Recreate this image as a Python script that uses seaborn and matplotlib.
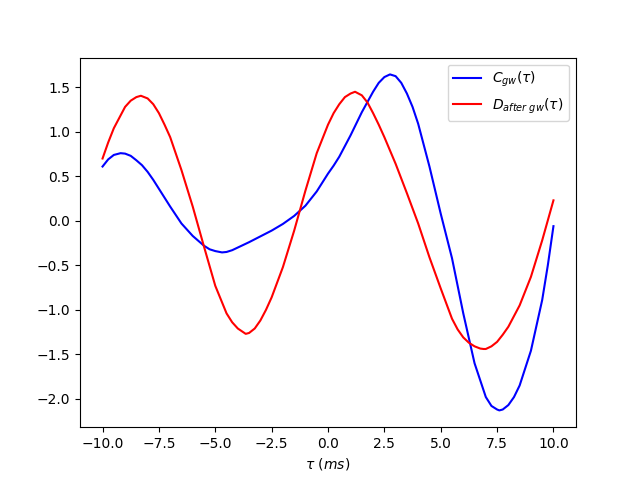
import matplotlib
matplotlib.use("Agg")
import matplotlib.pyplot as plt
import seaborn as sns
import pandas as pd

# C_gw(tau)
tau_c = [-10, -9.75, -9.5, -9.2, -9, -8.75, -8.5, -8.25, -8, -7.75, -7.5, -7, -6.5, -6,
         -5.5, -5.25, -5, -4.7, -4.5, -4.25, -4, -3.5, -3, -2.5, -2, -1.5, -1, -0.5,
         -0.25, 0, 0.25, 0.5, 0.75, 1, 1.5, 2, 2.25, 2.5, 2.75, 3, 3.25, 3.5, 3.75,
         4, 4.5, 5, 5.5, 6, 6.5, 7, 7.25, 7.5, 7.6, 7.75, 8, 8.25, 8.5, 9, 9.5, 9.75, 10]
c_vals = [0.61, 0.69, 0.74, 0.76, 0.755, 0.73, 0.68, 0.625, 0.55, 0.46, 0.36, 0.16,
          -0.03, -0.17, -0.28, -0.32, -0.34, -0.355, -0.35, -0.33, -0.30, -0.24,
          -0.175, -0.11, -0.035, 0.055, 0.17, 0.33, 0.43, 0.53, 0.62, 0.72, 0.84,
          0.96, 1.22, 1.45, 1.55, 1.615, 1.645, 1.625, 1.55, 1.43, 1.28, 1.09, 0.61,
          0.08, -0.42, -1.04, -1.60, -1.98, -2.08, -2.12, -2.13, -2.12, -2.07, -1.98,
          -1.85, -1.46, -0.89, -0.50, -0.06]

# D_after gw(tau)
tau_d = [-10, -9.75, -9.5, -9, -8.75, -8.5, -8.3, -8, -7.75, -7.5, -7.25, -7, -6.5, -6,
         -5.5, -5, -4.5, -4.25, -4, -3.65, -3.5, -3.25, -3, -2.75, -2.5, -2, -1.5, -1,
         -0.5, 0, 0.25, 0.5, 0.75, 1, 1.2, 1.5, 1.75, 2, 2.25, 2.5, 3, 3.5, 4, 4.5,
         5, 5.5, 5.75, 6, 6.25, 6.5, 6.75, 6.9, 7, 7.25, 7.5, 7.75, 8, 8.5, 9, 9.5, 10]
d_vals = [0.70, 0.88, 1.04, 1.28, 1.35, 1.39, 1.405, 1.375, 1.31, 1.21, 1.08, 0.94,
          0.57, 0.16, -0.29, -0.73, -1.04, -1.14, -1.21, -1.27, -1.26, -1.21, -1.12,
          -1.00, -0.86, -0.52, -0.11, 0.34, 0.76, 1.08, 1.21, 1.31, 1.39, 1.43, 1.45,
          1.41, 1.33, 1.21, 1.08, 0.94, 0.64, 0.31, -0.03, -0.41, -0.76, -1.10, -1.22,
          -1.31, -1.37, -1.41, -1.435, -1.44, -1.44, -1.41, -1.36, -1.28, -1.19, -0.95,
          -0.63, -0.22, 0.23]

label_c = r'$C_{gw}(\tau)$'
label_d = r'$D_{after\ gw}(\tau)$'
xlabel = r'$\tau\ (ms)$'

df_c = pd.DataFrame({"tau": tau_c, "val": c_vals})
df_d = pd.DataFrame({"tau": tau_d, "val": d_vals})

fig, ax = plt.subplots(figsize=(6.4, 4.8), dpi=100)
sns.lineplot(data=df_c, x="tau", y="val", color="blue", label=label_c, ax=ax)
sns.lineplot(data=df_d, x="tau", y="val", color="red", label=label_d, ax=ax)
ax.set_xlabel(xlabel)
ax.set_ylabel("")
ax.legend(loc="upper right")
fig.savefig("out.png", dpi=100)
